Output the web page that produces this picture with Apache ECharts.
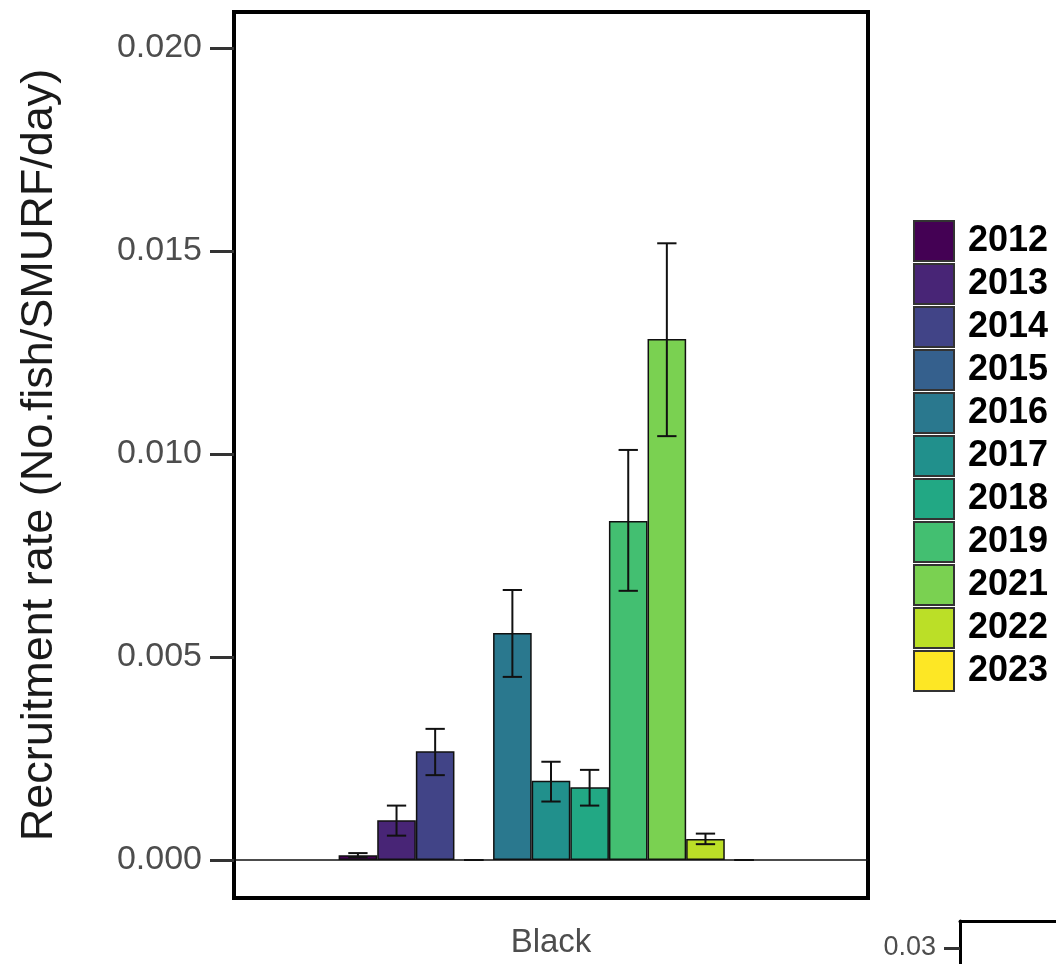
<!DOCTYPE html>
<html lang="en">
<head>
    <meta charset="utf-8">
    <title>Recruitment rate - Black</title>
    <script src="https://cdn.jsdelivr.net/npm/echarts@6/dist/echarts.min.js"></script>
    <style>
        html, body { margin: 0; padding: 0; background: #fff; }
        #main { width: 1056px; height: 964px; }
    </style>
</head>
<body>
<div id="main"></div>
<script type="text/javascript">
    // data
    var years = ['2012', '2013', '2014', '2015', '2016', '2017', '2018', '2019', '2021', '2022', '2023'];
    var rates = [0.00012, 0.00098, 0.00268, 0, 0.00559, 0.00195, 0.00179, 0.00835, 0.01283, 0.00052, 0];
    var errLow = [0.00007, 0.00060, 0.00209, 0, 0.00451, 0.00144, 0.00134, 0.00663, 0.01044, 0.00039, 0];
    var errHigh = [0.00017, 0.00134, 0.00323, 0, 0.00665, 0.00242, 0.00222, 0.01010, 0.01519, 0.00065, 0];
    var colors = ['#440154', '#482576', '#414487', '#35608D', '#2A788E', '#21908C',
                  '#22A884', '#43BF71', '#7AD151', '#BBDF27', '#FDE725'];
    var site = ['Black'];
    var yTicks = [0, 0.005, 0.010, 0.015, 0.020];

    var FONT = 'Liberation Sans, Arial, sans-serif';
    var GAP = 0.33; // barCategoryGap

    var myChart = echarts.init(document.getElementById('main'));

    var series = [];
    years.forEach(function (y, i) {
        series.push({
            name: y,
            type: 'bar',
            barGap: 0,
            barCategoryGap: (GAP * 100) + '%',
            itemStyle: { color: colors[i], borderColor: '#111', borderWidth: 1.5 },
            data: [rates[i] === 0 ? { value: 0, itemStyle: { borderWidth: 0 } } : rates[i]],
            markLine: i === 0 ? {
                silent: true,
                symbol: 'none',
                label: { show: false },
                lineStyle: { color: '#111', width: 1.5, type: 'solid' },
                data: [{ yAxis: 0 }]
            } : undefined,
            z: 2
        });
    });

    // error bars
    var errData = years.map(function (y, i) { return [0, errLow[i], errHigh[i], i]; });
    series.push({
        type: 'custom',
        name: 'err',
        z: 5,
        encode: { x: 0, y: [1, 2] },
        data: errData,
        renderItem: function (params, api) {
            var idx = api.value(3);
            var band = api.size([1, 0])[0];
            var barW = band * (1 - GAP) / years.length;
            var cx = api.coord([api.value(0), 0])[0] - band * (1 - GAP) / 2 + (idx + 0.5) * barW;
            var lo = api.coord([api.value(0), api.value(1)])[1];
            var hi = api.coord([api.value(0), api.value(2)])[1];
            var half = barW * 0.25;
            var st = { stroke: '#111', lineWidth: 2, fill: null };
            return {
                type: 'group',
                children: [
                    { type: 'line', shape: { x1: cx, y1: lo, x2: cx, y2: hi }, style: st },
                    { type: 'line', shape: { x1: cx - half, y1: lo, x2: cx + half, y2: lo }, style: st },
                    { type: 'line', shape: { x1: cx - half, y1: hi, x2: cx + half, y2: hi }, style: st }
                ]
            };
        }
    });

    var option = {
        animation: false,
        backgroundColor: '#fff',
        textStyle: { fontFamily: FONT },
        grid: [
            { left: 234, top: 12, right: 188, bottom: 66, show: true, borderColor: '#000', borderWidth: 4, backgroundColor: 'transparent' },
            // edge of the neighbouring panel, cut off at the corner
            { left: 960, top: 921, right: 0, bottom: 0, show: false }
        ],
        legend: {
            orient: 'vertical',
            left: 913,
            top: 220,
            padding: 0,
            itemWidth: 40,
            itemHeight: 40,
            itemGap: 1,
            icon: 'rect',
            data: years,
            itemStyle: { borderColor: '#333', borderWidth: 2 },
            textStyle: { fontFamily: FONT, fontSize: 36, fontWeight: 'bold', color: '#000', lineHeight: 38, padding: [0, 0, 0, 9] }
        },
        xAxis: [
            {
                type: 'category',
                data: site,
                axisLine: { show: false },
                axisTick: { show: false },
                axisLabel: { margin: 28, fontSize: 33, color: '#4d4d4d', fontFamily: FONT },
                splitLine: { show: false }
            },
            {
                type: 'category', gridIndex: 1, data: [''], position: 'top',
                axisLine: { show: true, onZero: false, lineStyle: { color: '#000', width: 3 } },
                axisTick: { show: false },
                axisLabel: { show: false },
                splitLine: { show: false }
            }
        ],
        yAxis: [
            {
                type: 'value',
                min: -0.000936,
                max: 0.020887,
                name: 'Recruitment rate (No.fish/SMURF/day)',
                nameLocation: 'middle',
                nameGap: 172,
                nameTextStyle: { fontSize: 45, color: '#1a1a1a', fontFamily: FONT },
                axisLine: { show: false },
                splitLine: { show: false },
                axisTick: { show: true, length: 24, customValues: yTicks, lineStyle: { color: '#333', width: 3 } },
                axisLabel: {
                    margin: 32, fontSize: 34, color: '#4d4d4d', fontFamily: FONT,
                    customValues: yTicks,
                    formatter: function (v) { return v.toFixed(3); }
                }
            },
            {
                type: 'value',
                gridIndex: 1,
                min: 0,
                max: 0.080625,
                axisLine: { show: true, onZero: false, lineStyle: { color: '#000', width: 3 } },
                splitLine: { show: false },
                axisTick: { show: true, length: 16, customValues: [0.03], lineStyle: { color: '#333', width: 3 } },
                axisLabel: {
                    margin: 24, fontSize: 27, color: '#4d4d4d', fontFamily: FONT,
                    customValues: [0.03],
                    formatter: function (v) { return v.toFixed(2); }
                }
            }
        ],
        series: series
    };

    myChart.setOption(option);
</script>
</body>
</html>
